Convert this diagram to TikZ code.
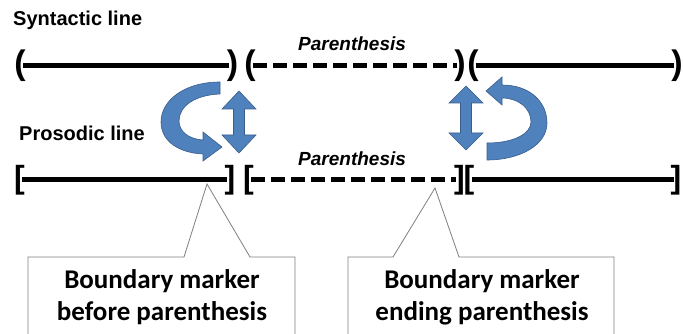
\documentclass[tikz,border=0pt]{standalone}
\usepackage{fontspec}
\setmainfont{Liberation Sans}
\newfontfamily\calib{Carlito}
\definecolor{arrowblue}{HTML}{4F81BD}
\definecolor{arrowedge}{HTML}{385D8A}
\definecolor{calloutgray}{HTML}{7F7F7F}
\begin{document}
\begin{tikzpicture}[x=1pt,y=-1pt,
  lbl/.style={font=\bfseries\fontsize{20}{22}\selectfont, anchor=base west, inner sep=0pt},
  plbl/.style={font=\bfseries\itshape\fontsize{19}{22}\selectfont, anchor=base west, inner sep=0pt},
  brk/.style={font=\bfseries\fontsize{34}{34}\selectfont, inner sep=0pt},
  sqb/.style={font=\bfseries\fontsize{32}{32}\selectfont, inner sep=0pt},
  solidln/.style={line width=5pt},
  dashln/.style={line width=5pt, dash pattern=on 14pt off 6pt},
  bluearrow/.style={fill=arrowblue, draw=arrowedge, line width=0.6pt},
  callout/.style={draw=calloutgray, fill=white, line width=0.8pt},
  boxtext/.style={font=\calib\bfseries\fontsize{27}{32}\selectfont, align=center, inner sep=0pt, anchor=base}
]
\useasboundingbox (0,0) rectangle (683,334);
\clip (0,0) rectangle (683,334);

% labels
\node[lbl] (syn) at (13,26) {Syntactic line};
\node[lbl] (pro) at (19,141) {Prosodic line};
\node[plbl] (par1) at (298,51) {Parenthesis};
\node[plbl] (par2) at (298,165) {Parenthesis};

% syntactic line brackets
\node[brk] (s1) at (20,66) {(};
\node[brk] (s2) at (232.5,66) {)};
\node[brk] (s3) at (250,66) {(};
\node[brk] (s4) at (460,66) {)};
\node[brk] (s5) at (473,66) {(};
\node[brk] (s6) at (677,66) {)};
\coordinate (sa) at (23,66);
\coordinate (sb) at (229,66);
\coordinate (sc) at (253,66);
\coordinate (sd) at (457,66);
\coordinate (se) at (476,66);
\coordinate (sf) at (674,66);
\draw[solidln] (sa) -- (sb);
\draw[dashln] (sc) -- (sd);
\draw[solidln] (se) -- (sf);

% prosodic line brackets
\node[sqb] (q1) at (19.5,180) {[};
\node[sqb] (q2) at (230,180) {]};
\node[sqb] (q3) at (248.5,180) {[};
\node[sqb] (q4) at (459.5,180) {]};
\node[sqb] (q5) at (469,180) {[};
\node[sqb] (q6) at (676,180) {]};
\coordinate (qa) at (22,180);
\coordinate (qb) at (227,180);
\coordinate (qc) at (251,180);
\coordinate (qd) at (456,180);
\coordinate (qe) at (472,180);
\coordinate (qf) at (674,180);
\draw[solidln] (qa) -- (qb);
\draw[dashln] (qc) -- (qd);
\draw[solidln] (qe) -- (qf);

% left curved arrow
\path[bluearrow] (220,82) .. controls (185,82) and (161,100) .. (161,122)
  .. controls (161,142) and (180,153) .. (203,154) -- (203,161) -- (222,147) -- (203,132) -- (203,140)
  .. controls (188,139) and (179,131) .. (179,121)
  .. controls (179,106) and (195,95) .. (220,94) -- cycle;
% left double arrow
\path[bluearrow] (239,91) -- (256,109) -- (244.5,109) -- (244.5,135) -- (256,135) -- (239,153)
  -- (222,135) -- (233.5,135) -- (233.5,109) -- (222,109) -- cycle;

% right double arrow
\path[bluearrow] (466,86) -- (483,103) -- (471.5,103) -- (471.5,133) -- (483,133) -- (466,150)
  -- (449,133) -- (460.5,133) -- (460.5,103) -- (449,103) -- cycle;
% right curved arrow
\path[bluearrow] (502,85) .. controls (530,85) and (547,102) .. (547,123)
  .. controls (547,145) and (520,160) .. (487,160) -- (487,143)
  .. controls (515,143) and (531,133) .. (531,122)
  .. controls (531,108) and (518,98) .. (502,98) -- (502,105) -- (486,91) -- (502,77) -- cycle;

% callouts
\coordinate (t1) at (207,184);
\coordinate (t2) at (435,188);
\draw[callout] (28,345) -- (28,257) -- (184,257) -- (t1) -- (250,257) -- (295,257) -- (295,345);
\draw[callout] (348,345) -- (348,257) -- (393,257) -- (t2) -- (459,257) -- (614,257) -- (614,345);
\node[boxtext] (b1) at (162,320) {Boundary marker\\before parenthesis};
\node[boxtext] (b2) at (482,320) {Boundary marker\\ending parenthesis};
\end{tikzpicture}
\end{document}
